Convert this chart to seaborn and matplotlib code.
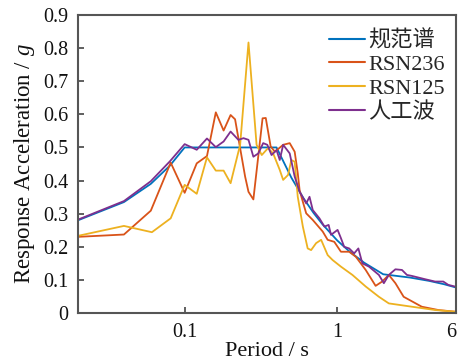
import numpy as np
import pandas as pd
import matplotlib
matplotlib.use("Agg")
import matplotlib.pyplot as plt
import seaborn as sns
from matplotlib.ticker import FixedLocator, FixedFormatter, NullLocator

# ---------------- data ----------------
labels = ["规范谱", "RSN236", "RSN125", "人工波"]
colors = ["#0072BD", "#D95319", "#EDB120", "#7E2F8E"]

T_code = [0.02, 0.04, 0.06, 0.08, 0.10, 0.40, 0.50, 0.60, 0.70, 0.80, 1.0, 1.2,
          1.5, 2.0, 3.0, 4.0, 5.0, 6.0]
A_code = [0.280, 0.335, 0.390, 0.445, 0.500, 0.500, 0.409, 0.347, 0.302, 0.268,
          0.219, 0.186, 0.152, 0.117, 0.107, 0.097, 0.087, 0.077]

T_236 = [0.02, 0.04, 0.06, 0.081, 0.10, 0.12, 0.14, 0.16, 0.18, 0.20, 0.214, 0.249,
         0.262, 0.282, 0.324, 0.340, 0.366, 0.390, 0.442, 0.488, 0.526, 0.551, 0.567,
         0.60, 0.626, 0.691, 0.803, 0.865, 0.956, 1.057, 1.197, 1.323, 1.536, 1.784,
         1.969, 2.177, 2.405, 2.723, 3.58, 4.595, 5.9]
A_236 = [0.230, 0.237, 0.309, 0.454, 0.363, 0.452, 0.474, 0.606, 0.551, 0.598, 0.585,
         0.412, 0.366, 0.343, 0.588, 0.589, 0.503, 0.487, 0.508, 0.513, 0.487, 0.422,
         0.370, 0.330, 0.301, 0.281, 0.246, 0.221, 0.215, 0.185, 0.185, 0.170, 0.130,
         0.082, 0.095, 0.115, 0.090, 0.049, 0.019, 0.009, 0.004]

T_125 = [0.02, 0.04, 0.061, 0.081, 0.10, 0.12, 0.14, 0.16, 0.18, 0.20, 0.231, 0.262,
         0.296, 0.320, 0.352, 0.380, 0.420, 0.442, 0.476, 0.50, 0.526, 0.551, 0.595,
         0.64, 0.674, 0.727, 0.784, 0.865, 0.932, 1.057, 1.257, 1.536, 1.874, 2.177,
         3.083, 4.375, 5.9]
A_125 = [0.233, 0.263, 0.244, 0.286, 0.387, 0.360, 0.470, 0.430, 0.430, 0.392, 0.508,
         0.817, 0.508, 0.477, 0.498, 0.482, 0.432, 0.402, 0.417, 0.462, 0.457, 0.351,
         0.261, 0.195, 0.190, 0.211, 0.221, 0.175, 0.160, 0.140, 0.115, 0.080, 0.049,
         0.029, 0.019, 0.009, 0.004]

T_art = [0.02, 0.04, 0.06, 0.08, 0.10, 0.12, 0.14, 0.16, 0.18, 0.20, 0.225, 0.243,
         0.262, 0.282, 0.304, 0.327, 0.348, 0.371, 0.400, 0.420, 0.442, 0.488, 0.526,
         0.567, 0.626, 0.658, 0.691, 0.764, 0.824, 0.878, 0.910, 1.005, 1.057, 1.110,
         1.197, 1.290, 1.375, 1.460, 1.614, 1.874, 2.020, 2.177, 2.405, 2.655, 2.861,
         3.083, 3.767, 4.375, 4.952, 5.338, 5.9]
A_art = [0.282, 0.338, 0.398, 0.458, 0.510, 0.493, 0.527, 0.501, 0.518, 0.548, 0.523,
         0.528, 0.523, 0.472, 0.482, 0.513, 0.508, 0.477, 0.492, 0.462, 0.508, 0.482,
         0.412, 0.366, 0.331, 0.351, 0.311, 0.286, 0.261, 0.266, 0.236, 0.251, 0.226,
         0.200, 0.195, 0.180, 0.195, 0.150, 0.140, 0.115, 0.090, 0.115, 0.132, 0.130,
         0.115, 0.112, 0.102, 0.095, 0.095, 0.085, 0.080]

x_ticks = [0.1, 1, 6]
x_ticklabels = ["0.1", "1", "6"]
y_ticks = [0, 0.1, 0.2, 0.3, 0.4, 0.5, 0.6, 0.7, 0.8, 0.9]
y_ticklabels = ["0", "0.1", "0.2", "0.3", "0.4", "0.5", "0.6", "0.7", "0.8", "0.9"]

frames = []
for lab, T, A in zip(labels, [T_code, T_236, T_125, T_art],
                     [A_code, A_236, A_125, A_art]):
    frames.append(pd.DataFrame({"T": T, "acc": A, "series": lab}))
df = pd.concat(frames, ignore_index=True)

# ---------------- styling ----------------
sns.set_theme(style="white")
plt.rcParams["font.family"] = ["Liberation Serif", "Noto Sans CJK SC"]
plt.rcParams["mathtext.fontset"] = "custom"
plt.rcParams["mathtext.rm"] = "Liberation Serif"
plt.rcParams["mathtext.it"] = "Liberation Serif:italic"

W, H = 458, 361
fig = plt.figure(figsize=(W / 100, H / 100), dpi=100)
ax = fig.add_axes([78 / W, 1 - 313 / H, (456 - 78) / W, (313 - 15) / H])

sns.lineplot(data=df, x="T", y="acc", hue="series", hue_order=labels,
             palette=colors, estimator=None, sort=False, ax=ax, linewidth=1.3)

ax.set_xscale("log")
ax.set_xlim(0.02, 6)
ax.set_ylim(0, 0.9)
ax.xaxis.set_major_locator(FixedLocator(x_ticks))
ax.xaxis.set_major_formatter(FixedFormatter(x_ticklabels))
ax.xaxis.set_minor_locator(NullLocator())
ax.yaxis.set_major_locator(FixedLocator(y_ticks))
ax.yaxis.set_major_formatter(FixedFormatter(y_ticklabels))

ax.tick_params(axis="both", which="major", direction="in", length=4, width=1.2,
               color="#444444", labelcolor="#111111", labelsize=14.5, pad=7)
ax.tick_params(top=False, right=False, bottom=True, left=True)
for s in ax.spines.values():
    s.set_color("#555555")
    s.set_linewidth(1.5)
    s.set_visible(True)

fig.canvas.draw()
xlabs = ax.get_xticklabels()
xlabs[-1].set_horizontalalignment("right")
xlabs[-1].set_x(xlabs[-1].get_position()[0])

ax.set_xlabel("Period / s", fontsize=16, labelpad=0, color="#111111")
ax.set_ylabel("Response Acceleration / $g$", fontsize=16.5, labelpad=4, color="#111111")

leg = ax.legend(loc="upper right", bbox_to_anchor=(1.0, 0.987), frameon=False,
                fontsize=16, handlelength=1.6, handletextpad=0.15,
                labelspacing=0.15, borderaxespad=0.3, borderpad=0.2)
for line in leg.get_lines():
    line.set_linewidth(1.5)

fig.savefig("out.png", dpi=100)
